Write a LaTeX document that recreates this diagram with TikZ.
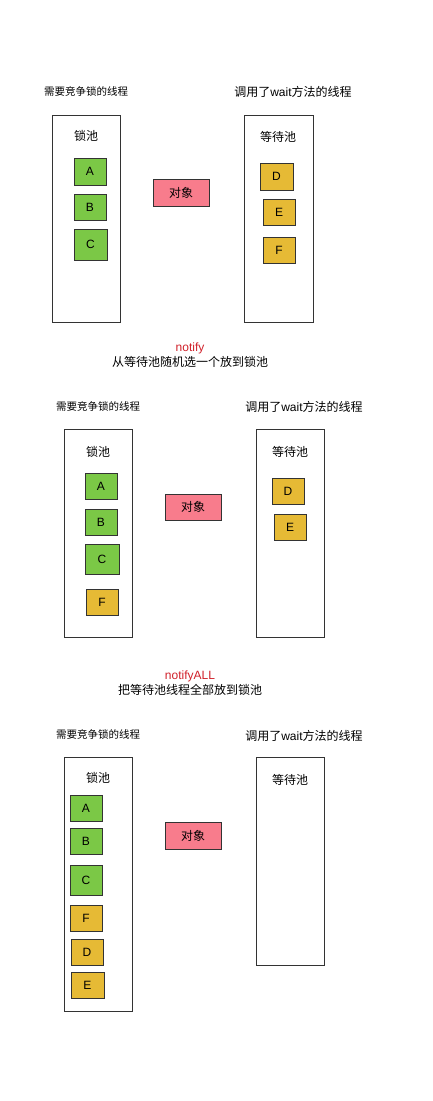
\documentclass[tikz,border=0pt]{standalone}
\usepackage{fontspec}
\setmainfont{Liberation Sans}
\newfontfamily\cjk{Noto Sans CJK SC}
\definecolor{tgreen}{HTML}{7BC846}
\definecolor{tyellow}{HTML}{E6BA35}
\definecolor{tpink}{HTML}{F87C8C}
\definecolor{tborder}{HTML}{333333}
\definecolor{tred}{HTML}{D0202A}
\begin{document}
\begin{tikzpicture}[x=1pt,y=-1pt,
  base/.style={draw=tborder,line width=1pt,inner sep=0pt,font=\fontsize{12}{14}\selectfont},
  pool/.style={base,fill=white,minimum width=68pt},
  gbox/.style={base,fill=tgreen,minimum width=32pt,minimum height=26pt},
  ybox/.style={base,fill=tyellow,minimum width=32pt,minimum height=26pt},
  objbox/.style={base,fill=tpink,minimum width=56pt,minimum height=27pt,font=\cjk\fontsize{12}{14}\selectfont},
  lbl/.style={inner sep=0pt,font=\cjk\fontsize{12}{14}\selectfont},
  slbl/.style={inner sep=0pt,font=\cjk\fontsize{10.5}{12}\selectfont},
  note/.style={inner sep=0pt,font=\fontsize{12}{14}\selectfont,text=tred}]
\useasboundingbox (0,0) rectangle (432,1101);
% ---------- panel 1 ----------
\node[slbl] (t1l) at (86,91) {需要竞争锁的线程};
\node[lbl] (t1r) at (293,92) {调用了{\rmfamily wait}方法的线程};
\node[pool,minimum height=207pt] (lp1) at (86,218.5) {};
\node[lbl] (lp1t) at (86,136) {锁池};
\node[gbox,minimum height=27pt] (a1) at (90,171.5) {A};
\node[gbox] (b1) at (90,207) {B};
\node[gbox,minimum width=33pt,minimum height=31pt] (c1) at (90.5,244.5) {C};
\node[objbox] (o1) at (181,192.5) {对象};
\node[pool,minimum width=69pt,minimum height=207pt] (wp1) at (278.5,218.5) {};
\node[lbl] (wp1t) at (278,137) {等待池};
\node[ybox,minimum width=33pt,minimum height=27pt] (d1) at (276.5,176.5) {D};
\node[ybox] (e1) at (279,212) {E};
\node[ybox] (f1) at (279,250) {F};
% ---------- transition 1 ----------
\node[note] (n1) at (190,348) {notify};
\node[lbl] (n1t) at (190,362) {从等待池随机选一个放到锁池};
% ---------- panel 2 ----------
\node[slbl] (t2l) at (98,406) {需要竞争锁的线程};
\node[lbl] (t2r) at (304,407) {调用了{\rmfamily wait}方法的线程};
\node[pool,minimum height=208pt] (lp2) at (98,533) {};
\node[lbl] (lp2t) at (98,452) {锁池};
\node[gbox] (a2) at (101,486) {A};
\node[gbox] (b2) at (101,522) {B};
\node[gbox,minimum width=34pt,minimum height=30pt] (c2) at (102,559) {C};
\node[ybox] (f2) at (102,602) {F};
\node[objbox,minimum height=26pt] (o2) at (193,507) {对象};
\node[pool,minimum height=208pt] (wp2) at (290,533) {};
\node[lbl] (wp2t) at (290,452) {等待池};
\node[ybox] (d2) at (288,491) {D};
\node[ybox] (e2) at (290,527) {E};
% ---------- transition 2 ----------
\node[note] (n2) at (190,676) {notifyALL};
\node[lbl] (n2t) at (190,690) {把等待池线程全部放到锁池};
% ---------- panel 3 ----------
\node[slbl] (t3l) at (98,734) {需要竞争锁的线程};
\node[lbl] (t3r) at (304,736) {调用了{\rmfamily wait}方法的线程};
\node[pool,minimum height=254pt] (lp3) at (98,884) {};
\node[lbl] (lp3t) at (98,778) {锁池};
\node[gbox] (a3) at (86,808) {A};
\node[gbox] (b3) at (86,841) {B};
\node[gbox,minimum height=30pt] (c3) at (86,880) {C};
\node[ybox] (f3) at (86,918) {F};
\node[ybox] (d3) at (87,952) {D};
\node[ybox,minimum width=33pt] (e3) at (87.5,985) {E};
\node[objbox] (o3) at (193,835.5) {对象};
\node[pool,minimum height=208pt] (wp3) at (290,861) {};
\node[lbl] (wp3t) at (290,780) {等待池};
\end{tikzpicture}
\end{document}
